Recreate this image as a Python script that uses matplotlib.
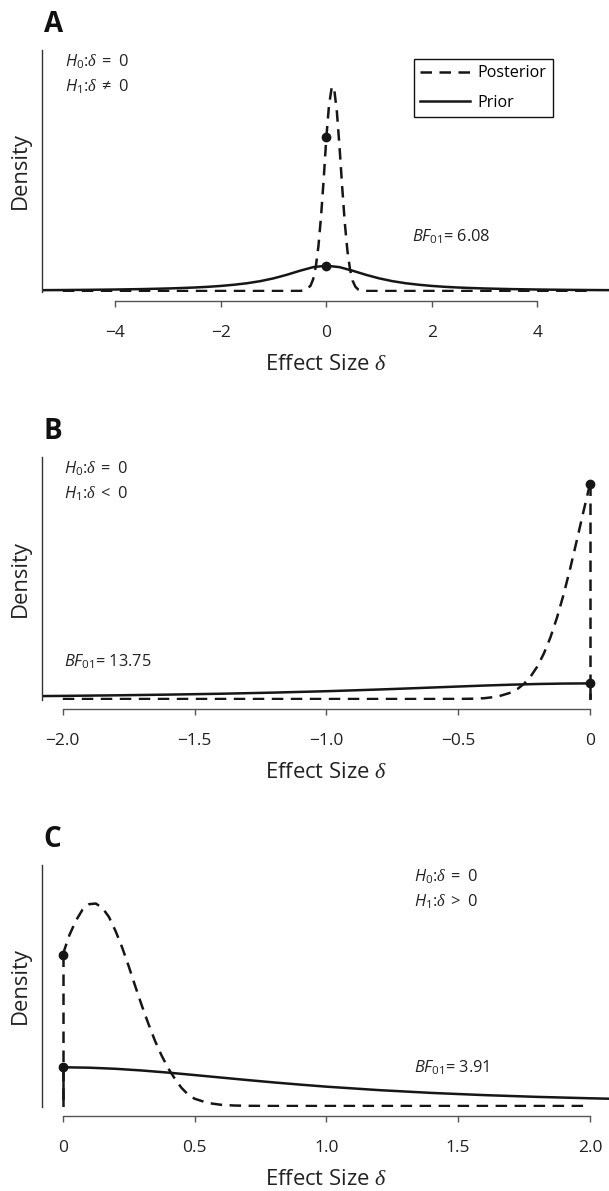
import matplotlib
matplotlib.use("Agg")
import matplotlib.pyplot as plt

plt.rcParams['font.family'] = ['Open Sans', 'DejaVu Sans']
plt.rcParams['mathtext.fontset'] = 'custom'
plt.rcParams['mathtext.rm'] = 'Open Sans'
plt.rcParams['mathtext.it'] = 'Open Sans:italic'
plt.rcParams['mathtext.bf'] = 'Open Sans:bold'
# serif italic delta, as in the original figure
plt.rcParams['mathtext.cal'] = 'Liberation Serif:italic'

# ---- data ----
# A: two-sided test, Cauchy prior
a_prior_x = [-5.4, -5, -4.5, -4, -3.5, -3, -2.75, -2.5, -2.25, -2, -1.75, -1.5, -1.25, -1,
             -0.75, -0.5, -0.25, 0, 0.25, 0.5, 0.75, 1, 1.25, 1.5, 1.75, 2, 2.25, 2.5, 2.75,
             3, 3.5, 4, 4.5, 5, 5.4]
a_prior_y = [0.0106, 0.0122, 0.0149, 0.0187, 0.0240, 0.0318, 0.0372, 0.0439, 0.0524, 0.0637,
             0.0788, 0.0979, 0.1241, 0.1592, 0.2037, 0.2546, 0.2996, 0.3183, 0.2996, 0.2546,
             0.2037, 0.1592, 0.1241, 0.0979, 0.0788, 0.0637, 0.0524, 0.0439, 0.0372, 0.0318,
             0.0240, 0.0187, 0.0149, 0.0122, 0.0106]
a_post_x = [-5, -1, -0.5, -0.4, -0.3, -0.25, -0.2, -0.15, -0.1, -0.05, 0, 0.05, 0.1, 0.12,
            0.15, 0.2, 0.25, 0.3, 0.35, 0.4, 0.45, 0.5, 0.55, 0.6, 0.7, 0.8, 1, 5]
a_post_y = [0, 0, 0.001, 0.009, 0.066, 0.149, 0.305, 0.565, 0.941, 1.41, 1.93, 2.33, 2.55,
            2.57, 2.53, 2.25, 1.81, 1.31, 0.856, 0.504, 0.267, 0.127, 0.055, 0.021, 0.002,
            0, 0, 0]
a_prior0, a_post0 = 0.318, 1.93
a_bf = '6.08'

# B: one-sided test, delta < 0
b_prior_x = [-2.08, -2, -1.8, -1.6, -1.4, -1.2, -1, -0.9, -0.8, -0.7, -0.6, -0.5, -0.4,
             -0.3, -0.2, -0.1, 0]
b_prior_y = [0.119, 0.127, 0.150, 0.179, 0.215, 0.261, 0.318, 0.352, 0.388, 0.427, 0.468,
             0.509, 0.549, 0.584, 0.612, 0.630, 0.637]
b_post_x = [-2, -1, -0.6, -0.5, -0.45, -0.4, -0.35, -0.3, -0.275, -0.25, -0.225, -0.2,
            -0.175, -0.15, -0.125, -0.1, -0.075, -0.05, -0.025, 0]
b_post_y = [0, 0, 0.0002, 0.003, 0.010, 0.033, 0.098, 0.261, 0.408, 0.621, 0.917, 1.32,
            1.85, 2.51, 3.32, 4.26, 5.32, 6.46, 7.63, 8.76]
b_prior0, b_post0 = 0.637, 8.76
b_bf = '13.75'

# C: one-sided test, delta > 0
c_prior_x = [0, 0.1, 0.2, 0.3, 0.4, 0.5, 0.6, 0.7, 0.8, 0.9, 1.0, 1.2, 1.4, 1.6, 1.8, 2.0, 2.08]
c_prior_y = [0.637, 0.630, 0.612, 0.584, 0.549, 0.509, 0.468, 0.427, 0.388, 0.352, 0.318,
             0.261, 0.215, 0.179, 0.150, 0.127, 0.119]
c_post_x = [0, 0.025, 0.05, 0.075, 0.1, 0.125, 0.15, 0.175, 0.2, 0.225, 0.25, 0.275, 0.3,
            0.325, 0.35, 0.375, 0.4, 0.425, 0.45, 0.475, 0.5, 0.55, 0.6, 0.65, 0.7, 0.8,
            1.0, 2.0]
c_post_y = [2.49, 2.81, 3.05, 3.23, 3.32, 3.33, 3.26, 3.11, 2.88, 2.61, 2.30, 1.97, 1.65,
            1.35, 1.07, 0.83, 0.62, 0.45, 0.30, 0.19, 0.12, 0.05, 0.02, 0.008, 0.003, 0, 0, 0]
c_prior0, c_post0 = 0.637, 2.49
c_bf = '3.91'

a_ticks = [-4, -2, 0, 2, 4]
a_labels = ['\u22124', '\u22122', '0', '2', '4']
b_ticks = [-2, -1.5, -1, -0.5, 0]
b_labels = ['\u22122.0', '\u22121.5', '\u22121.0', '\u22120.5', '0']
c_ticks = [0, 0.5, 1, 1.5, 2]
c_labels = ['0', '0.5', '1.0', '1.5', '2.0']

# ---- layout (pixels) ----
W, H = 609, 1191
L, R = 41.7, 611.0
ink = '#161616'
dash = (0, (4.6, 3.0))
D = r'\mathcal{\delta}'

fig = plt.figure(figsize=(W / 100, H / 100), dpi=100)


def ftext(px, py, s, **kw):
    return fig.text(px / W, 1 - py / H, s, **kw)


def panel(top, base, scale, xlim, ticks, labels, letter):
    bottom = base + 1
    ax = fig.add_axes([L / W, 1 - bottom / H, (R - L) / W, (bottom - top) / H])
    ax.set_xlim(*xlim)
    ax.set_ylim(-(bottom - base) / scale, (base - top) / scale)
    for s in ['top', 'right']:
        ax.spines[s].set_visible(False)
    ax.spines['left'].set_color('#333333')
    ax.spines['left'].set_linewidth(1.0)
    ax.spines['bottom'].set_position(('outward', 6.6))
    ax.spines['bottom'].set_bounds(ticks[0], ticks[-1])
    ax.spines['bottom'].set_color('#555555')
    ax.spines['bottom'].set_linewidth(1.0)
    ax.set_yticks([])
    ax.set_xticks(ticks, labels)
    ax.tick_params(axis='x', direction='out', length=4.5, width=1.0, color='#555555',
                   pad=12.4, labelsize=12.5, labelcolor='#222222')
    axis_px = bottom + 9.2
    ftext((L + R) / 2, axis_px + 69, 'Effect Size $%s$' % D, ha='center', va='baseline',
          fontsize=15.8, color='#222222')
    ftext(20.5, (top + bottom) / 2, 'Density', rotation=90, ha='center', va='center',
          fontsize=15.8, color='#222222')
    ftext(43.5, top - 18.3, letter, fontsize=20, fontweight='bold', ha='left',
          va='baseline', color='#111111')
    return ax


def hyp(px, top, sym):
    ftext(px, top + 16.2, '$H_0$:$%s\\;=\\;0$' % D, fontsize=11.8, va='baseline',
          color='#222222')
    ftext(px, top + 41.5, '$H_1$:$%s\\;%s\\;0$' % (D, sym), fontsize=11.8, va='baseline',
          color='#222222')


def bf(px, py, val):
    ftext(px, py, '$BF_{01}$= ' + val, fontsize=11.8, va='baseline', color='#222222')


# Panel A
ax = panel(50, 291, 79.6, (-5.4, 5.4), a_ticks, a_labels, 'A')
lp, = ax.plot(a_post_x, a_post_y, color=ink, lw=1.8, ls=dash, label='Posterior')
lr, = ax.plot(a_prior_x, a_prior_y, color=ink, lw=1.8, label='Prior')
ax.plot([0, 0], [a_prior0, a_post0], 'o', ms=6, color=ink, zorder=5)
hyp(65, 50, '\\neq')
bf(412, 241, a_bf)
leg = ax.legend(handles=[lp, lr], loc='upper left', bbox_to_anchor=(414.3 / W, 1 - 59.3 / H),
                bbox_transform=fig.transFigure, borderaxespad=0, fancybox=False,
                edgecolor='#111111', framealpha=1, handlelength=3.1, handletextpad=0.45,
                borderpad=0.38, labelspacing=0.85, fontsize=11.6)
leg.get_frame().set_linewidth(1.0)

# Panel B
ax = panel(457.3, 699, 24.5, (-2.08, 0.08), b_ticks, b_labels, 'B')
ax.plot(b_post_x, b_post_y, color=ink, lw=1.8, ls=dash)
ax.plot([0, 0], [b_post0, 0], color=ink, lw=1.8, ls=dash)
ax.plot(b_prior_x, b_prior_y, color=ink, lw=1.8)
ax.plot([0, 0], [b_prior0, 0], color=ink, lw=1.8)
ax.plot([0, 0], [b_prior0, b_post0], 'o', ms=6, color=ink, zorder=5)
hyp(64.3, 457.3, '<')
bf(64.3, 666, b_bf)

# Panel C
ax = panel(865, 1106, 60.8, (-0.08, 2.08), c_ticks, c_labels, 'C')
ax.plot(c_post_x, c_post_y, color=ink, lw=1.8, ls=dash)
ax.plot([0, 0], [c_post0, 0], color=ink, lw=1.8, ls=dash)
ax.plot(c_prior_x, c_prior_y, color=ink, lw=1.8)
ax.plot([0, 0], [c_prior0, 0], color=ink, lw=1.8)
ax.plot([0, 0], [c_prior0, c_post0], 'o', ms=6, color=ink, zorder=5)
hyp(414, 865, '>')
bf(414, 1072.6, c_bf)

fig.savefig('out.png', dpi=100)
